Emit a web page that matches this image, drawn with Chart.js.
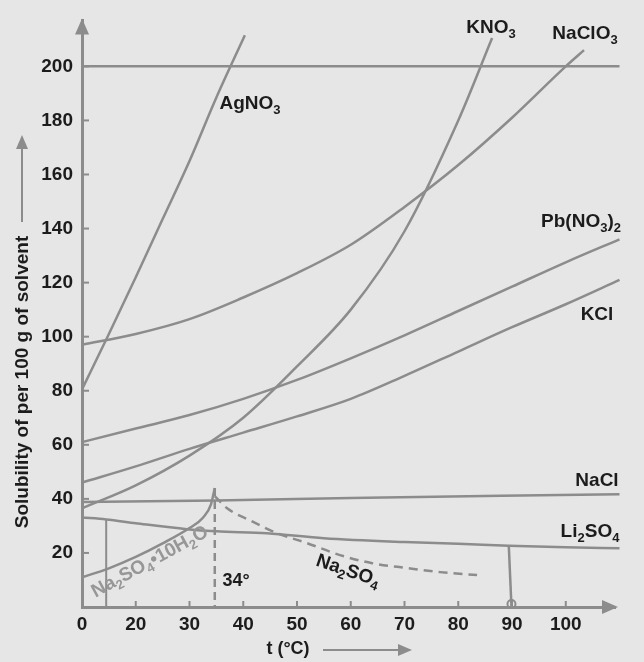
<!DOCTYPE html>
<html>
<head>
<meta charset="utf-8">
<script src="https://cdn.jsdelivr.net/npm/chart.js@4.4.1/dist/chart.umd.min.js"></script>
<style>
  html, body { margin: 0; padding: 0; background: #e6e6e6; }
  #wrap { width: 644px; height: 662px; }
</style>
</head>
<body>
<div id="wrap"><canvas id="chart10" width="644" height="662"></canvas></div>
<script>
// t (°C) and solubility (g per 100 g of solvent)
const agno3T = [10, 15, 20, 25, 30, 35, 40.3];
const agno3S = [80.5, 101, 122, 143.5, 165, 188.5, 211.5];

const kno3T = [10, 20, 30, 40, 50, 60, 70, 80, 86.3];
const kno3S = [36.5, 45, 56, 70, 89, 110, 139, 180, 210.5];

const naclo3T = [10, 20, 30, 40, 50, 60, 70, 80, 90, 100, 103.4];
const naclo3S = [97, 101, 106.5, 114.5, 123.5, 134, 148, 163.5, 181, 200, 206];

const pbT = [10, 20, 30, 40, 50, 60, 70, 80, 90, 100, 110];
const pbS = [61, 66, 71, 77, 84, 92, 100.5, 109.5, 118.5, 127.5, 136];

const kclT = [10, 20, 30, 40, 50, 60, 70, 80, 90, 100, 110];
const kclS = [46, 52, 58.5, 64.5, 70.5, 77, 85.5, 94.5, 103.5, 112, 121];

const naclT = [10, 35, 60, 88, 110];
const naclS = [38.8, 39.4, 40.3, 41.2, 41.7];

const li2so4T = [10, 14.5, 20, 29.5, 35, 44.4, 55, 70, 80, 89.4, 100, 110];
const li2so4S = [33.1, 32.4, 31, 28.8, 28, 27.3, 25.4, 24, 23.4, 22.7, 22.1, 21.7];

const decahydrateT = [10, 15, 20, 25, 30, 32.5, 34, 34.7];
const decahydrateS = [11, 14.3, 18.5, 23.5, 29.2, 33, 38, 44];

const anhydrousT = [34.7, 37, 41.3, 46.3, 51.9, 58, 64, 70.5, 76.6, 83.5];
const anhydrousS = [41, 36.5, 32, 27.3, 23.6, 19.2, 16.2, 14.4, 12.9, 11.8];

const limitT = [10, 110];
const limitS = [200, 200];

const transitionT = [34.7, 34.7];
const transitionS = [44, 0];
const readLeftT = [14.5, 14.5];
const readLeftS = [32.4, 0];
const readRightT = [89.4, 89.9];
const readRightS = [22.7, 0];

const xTickValues = [10, 20, 30, 40, 50, 60, 70, 80, 90, 100];
const xTickLabels = ['0', '20', '30', '40', '50', '60', '70', '80', '90', '100'];
const yTickValues = [20, 40, 60, 80, 100, 120, 140, 160, 180, 200];

const lineGray = '#8c8c8c';
const ink = '#1c1c1c';
const fontFam = '"Liberation Sans", Arial, sans-serif';

function pts(ts, ss) {
    return ts.map((t, i) => ({x: t, y: ss[i]}));
}

function curve(ts, ss, extra) {
    return Object.assign({
        data: pts(ts, ss),
        showLine: true,
        borderColor: lineGray,
        borderWidth: 2.5,
        pointRadius: 0,
        cubicInterpolationMode: 'monotone',
        clip: false,
    }, extra || {});
}

// chemistry label with "_x" as a subscript character
function drawChem(ctx, str, x, y, opt) {
    const parts = [];
    for (let i = 0; i < str.length; i++) {
        if (str[i] === '_') {
            parts.push({t: str[i + 1], sub: true});
            i++;
        } else {
            const last = parts[parts.length - 1];
            if (last && !last.sub) last.t += str[i];
            else parts.push({t: str[i], sub: false});
        }
    }
    const big = `bold ${opt.size}px ${fontFam}`;
    const small = `bold ${Math.round(opt.size * 0.68)}px ${fontFam}`;
    ctx.save();
    ctx.textAlign = 'left';
    ctx.textBaseline = 'middle';
    let w = 0;
    parts.forEach(p => {
        ctx.font = p.sub ? small : big;
        p.w = ctx.measureText(p.t).width;
        w += p.w;
    });
    ctx.translate(x, y);
    ctx.rotate(opt.angle || 0);
    ctx.fillStyle = opt.color || ink;
    let cx = -w / 2;
    parts.forEach(p => {
        ctx.font = p.sub ? small : big;
        ctx.fillText(p.t, cx, p.sub ? opt.size * 0.32 : 0);
        cx += p.w;
    });
    ctx.restore();
}

function arrowHead(ctx, tipX, tipY, dir, len, half) {
    ctx.beginPath();
    if (dir === 'up') {
        ctx.moveTo(tipX, tipY);
        ctx.lineTo(tipX - half, tipY + len);
        ctx.lineTo(tipX + half, tipY + len);
    } else {
        ctx.moveTo(tipX, tipY);
        ctx.lineTo(tipX - len, tipY - half);
        ctx.lineTo(tipX - len, tipY + half);
    }
    ctx.closePath();
    ctx.fill();
}

const scanPlugin = {
    id: 'scan',
    beforeDraw(chart) {
        const ctx = chart.ctx;
        ctx.save();
        ctx.fillStyle = '#e6e6e6';
        ctx.fillRect(0, 0, chart.width, chart.height);
        ctx.restore();
    },
    afterDraw(chart) {
        const ctx = chart.ctx;
        const area = chart.chartArea;
        const xs = chart.scales.x, ys = chart.scales.y;
        ctx.save();
        ctx.strokeStyle = lineGray;
        ctx.fillStyle = lineGray;
        ctx.lineWidth = 2;
        // inward ticks
        yTickValues.forEach(v => {
            const py = ys.getPixelForValue(v);
            ctx.beginPath();
            ctx.moveTo(area.left, py);
            ctx.lineTo(area.left + 7, py);
            ctx.stroke();
        });
        xTickValues.slice(1).forEach(v => {
            const px = xs.getPixelForValue(v);
            ctx.beginPath();
            ctx.moveTo(px, area.bottom);
            ctx.lineTo(px, area.bottom - 6);
            ctx.stroke();
        });
        // axis arrows
        arrowHead(ctx, area.left, area.top - 2, 'up', 16, 7);
        arrowHead(ctx, area.right + 3, area.bottom, 'right', 16, 7);
        // small circle where the 90 °C reading meets the axis
        ctx.beginPath();
        ctx.arc(xs.getPixelForValue(89.9), area.bottom - 3, 4, 0, Math.PI * 2);
        ctx.stroke();

        // axis titles with arrows
        ctx.save();
        ctx.translate(23, 382);
        ctx.rotate(-Math.PI / 2);
        ctx.font = `bold 19px ${fontFam}`;
        ctx.fillStyle = ink;
        ctx.textAlign = 'center';
        ctx.textBaseline = 'middle';
        ctx.fillText('Solubility of per 100 g of solvent', 0, 0);
        ctx.restore();
        ctx.lineWidth = 2;
        ctx.beginPath();
        ctx.moveTo(22, 222);
        ctx.lineTo(22, 148);
        ctx.stroke();
        arrowHead(ctx, 22, 135, 'up', 14, 6);

        ctx.font = `bold 18px ${fontFam}`;
        ctx.fillStyle = ink;
        ctx.textAlign = 'center';
        ctx.textBaseline = 'middle';
        ctx.fillText('t (°C)', 288, 649);
        ctx.fillText('34°', 236, 581);
        ctx.fillStyle = lineGray;
        ctx.beginPath();
        ctx.moveTo(323, 650);
        ctx.lineTo(400, 650);
        ctx.stroke();
        arrowHead(ctx, 412, 650, 'right', 14, 6);

        // curve labels
        drawChem(ctx, 'AgNO_3', 250, 104, {size: 19});
        drawChem(ctx, 'KNO_3', 491, 28, {size: 19});
        drawChem(ctx, 'NaClO_3', 585, 34, {size: 19});
        drawChem(ctx, 'Pb(NO_3)_2', 581, 222, {size: 19});
        drawChem(ctx, 'KCl', 597, 315, {size: 19});
        drawChem(ctx, 'NaCl', 597, 481, {size: 19});
        drawChem(ctx, 'Li_2SO_4', 590, 532, {size: 19});
        drawChem(ctx, 'Na_2SO_4', 348, 571, {size: 19, angle: 0.33});
        drawChem(ctx, 'Na_2SO_4•10H_2O', 150, 562, {size: 19, angle: -0.5, color: '#979797'});
        ctx.restore();
    }
};

const ctx10 = document.getElementById('chart10').getContext('2d');
const chart10 = new Chart(ctx10, {
    type: 'scatter',
    data: {
        datasets: [
            curve(limitT, limitS, {cubicInterpolationMode: 'default'}),
            curve(agno3T, agno3S),
            curve(kno3T, kno3S),
            curve(naclo3T, naclo3S),
            curve(pbT, pbS),
            curve(kclT, kclS),
            curve(naclT, naclS),
            curve(li2so4T, li2so4S),
            curve(decahydrateT, decahydrateS),
            curve(anhydrousT, anhydrousS, {borderDash: [9, 6]}),
            curve(transitionT, transitionS, {cubicInterpolationMode: 'default', borderDash: [8, 5]}),
            curve(readLeftT, readLeftS, {cubicInterpolationMode: 'default', borderWidth: 2}),
            curve(readRightT, readRightS, {cubicInterpolationMode: 'default', borderWidth: 2.5}),
        ],
    },
    options: {
        responsive: false,
        animation: false,
        layout: {padding: {left: 0, right: 29, top: 18, bottom: 0}},
        plugins: {
            legend: {display: false},
            tooltip: {enabled: false},
        },
        scales: {
            x: {
                type: 'linear',
                min: 10,
                max: 109.16,
                grid: {display: false, drawTicks: false},
                border: {color: lineGray, width: 3},
                afterBuildTicks: (s) => { s.ticks = xTickValues.map(v => ({value: v})); },
                afterFit: (s) => { s.height = 55; },
                ticks: {
                    padding: 6,
                    color: ink,
                    font: {family: fontFam, size: 19, weight: 'bold'},
                    callback: (v, i) => xTickLabels[i],
                },
            },
            y: {
                type: 'linear',
                min: 0,
                max: 217,
                grid: {display: false, drawTicks: false},
                border: {color: lineGray, width: 3},
                afterBuildTicks: (s) => { s.ticks = yTickValues.map(v => ({value: v})); },
                afterFit: (s) => { s.width = 82; },
                ticks: {
                    padding: 9,
                    color: ink,
                    font: {family: fontFam, size: 19, weight: 'bold'},
                },
            },
        },
    },
    plugins: [scanPlugin],
});
</script>
</body>
</html>
